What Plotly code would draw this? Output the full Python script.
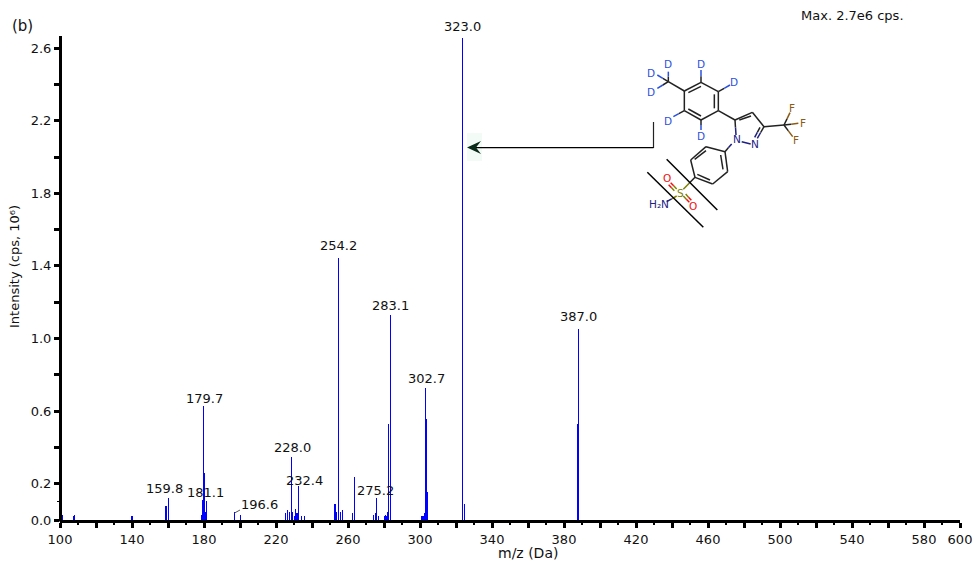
import plotly.graph_objects as go

# ---------- data ----------
mz = [100.2, 100.7, 101.2, 107.5, 107.9, 139.6, 140.1, 158.4, 158.9, 160.2, 178.7, 179.2, 179.6, 180.1, 180.6, 181.3,
      196.8, 200.2, 225.4, 226.3, 227.4, 228.5, 229.1, 230.3, 230.8, 231.4, 231.9, 232.4, 234.3, 235.7,
      252.4, 253.0, 253.5, 254.6, 256.1, 256.7, 262.4, 263.5, 274.1, 275.2, 275.7, 276.8,
      280.2, 280.7, 281.3, 281.8, 282.4, 283.5, 300.7, 301.3, 301.8, 302.4, 303.0, 303.5, 304.1,
      323.5, 324.6, 387.4, 388.0]
intensity = [0.05, 0.04, 0.03, 0.02, 0.03, 0.022, 0.022, 0.077, 0.077, 0.12, 0.028, 0.11, 0.628, 0.257, 0.045, 0.105,
             0.042, 0.028, 0.037, 0.055, 0.042, 0.347, 0.044, 0.022, 0.06, 0.04, 0.04, 0.187, 0.022, 0.022,
             0.088, 0.088, 0.044, 1.443, 0.044, 0.055, 0.037, 0.237, 0.028, 0.039, 0.123, 0.022,
             0.02, 0.028, 0.022, 0.044, 0.529, 1.13, 0.022, 0.022, 0.022, 0.039, 0.725, 0.556, 0.154,
             2.655, 0.088, 0.529, 1.052]

label_text = ["254.2", "283.1", "387.0", "302.7", "179.7", "159.8", "181.1", "228.0", "232.4", "196.6", "275.2"]
label_mz = [254.6, 283.8, 388.0, 303.6, 180.4, 158.3, 181.0, 229.0, 236.1, 210.6, 275.0]
label_int = [1.510, 1.180, 1.120, 0.777, 0.672, 0.176, 0.154, 0.397, 0.220, 0.083, 0.165]

x_ticks = list(range(100, 601, 20))
x_labelled = [100, 140, 180, 220, 260, 300, 340, 380, 420, 460, 500, 540, 580, 600]
x_minor = list(range(110, 600, 20))
y_ticks = [0.0, 0.2, 0.4, 0.6, 0.8, 1.0, 1.2, 1.4, 1.6, 1.8, 2.0, 2.2, 2.4, 2.6]
y_labelled = [0.0, 0.2, 0.6, 1.0, 1.4, 1.8, 2.2, 2.6]

W, H = 980, 569
ML, MR, MT, MB = 60, 20, 36, 49
FONT = "DejaVu Sans"
TXT = "#111111"


def px(x):
    return (x - ML) / (W - ML - MR)


def py(y):
    return 1 - (y - MT) / (H - MT - MB)


def zx(v):  # molecule drawing space -> page pixels
    return 620 + v / 3


def zy(v):
    return 40 + v / 3


shapes = []


def seg(x0, y0, x1, y1, color="#222222", width=1.5):
    shapes.append(dict(type="line", xref="paper", yref="paper", x0=px(x0), y0=py(y0), x1=px(x1), y1=py(y1),
                       line=dict(color=color, width=width), layer="above"))


def bond(a, b, color="#222222", color2=None, width=1.5):
    x0, y0, x1, y1 = zx(a[0]), zy(a[1]), zx(b[0]), zy(b[1])
    if color2:
        mx, my = (x0 + x1) / 2, (y0 + y1) / 2
        seg(x0, y0, mx, my, color, width)
        seg(mx, my, x1, y1, color2, width)
    else:
        seg(x0, y0, x1, y1, color, width)


BLUE, BROWN, RED, NAVY, OLIVE = "#2a50e0", "#8b5a14", "#f01010", "#202080", "#808000"

ring_a = [(193, 153), (243, 127), (295, 155), (295, 212), (243, 240), (193, 212)]
ring_b = [(315, 335), (323, 395), (278, 432), (225, 412), (212, 360), (258, 320)]
black_bonds = [
    *zip(ring_a, ring_a[1:] + ring_a[:1]), *zip(ring_b, ring_b[1:] + ring_b[:1]),
    ((205, 158), (243, 139)), ((283, 163), (283, 205)), ((205, 207), (243, 228)),
    ((193, 153), (145, 125)), ((295, 212), (345, 240)),
    ((345, 240), (397, 217)), ((397, 217), (432, 260)), ((358, 240), (393, 228)),
    ((432, 260), (492, 255)), ((302, 345), (309, 388)), ((270, 420), (232, 403)), ((224, 358), (258, 332)),
]
for a, b in black_bonds:
    bond(a, b)
for b in [(145, 95), (112, 105), (112, 145)]:
    bond((145, 125), b, "#222222", BLUE)
for a, b in [((243, 127), (243, 90)), ((295, 155), (330, 135)), ((193, 212), (160, 230)), ((243, 240), (243, 270))]:
    bond(a, b, "#222222", BLUE)
bond((345, 240), (348, 285), "#222222", NAVY)
bond((335, 312), (315, 335), NAVY, "#222222")
bond((365, 305), (392, 312), NAVY)
bond((432, 260), (412, 295), "#222222", NAVY)
bond((420, 262), (404, 292), "#222222", NAVY)
for b in [(510, 218), (535, 250), (518, 290)]:
    bond((492, 255), b, "#222222", BROWN)
bond((225, 412), (190, 448), "#222222", OLIVE)
bond((170, 447), (152, 428), OLIVE, RED)
bond((163, 452), (146, 434), OLIVE, RED)
bond((190, 468), (208, 487), OLIVE, RED)
bond((197, 462), (214, 481), OLIVE, RED)
bond((170, 468), (140, 485), OLIVE, NAVY)

# cleavage marks
bond((140, 358), (292, 510), "#000000", width=1.5)
bond((82, 397), (250, 562), "#000000", width=1.5)

# arrow from the structure to the 323 peak
shapes.append(dict(type="rect", xref="paper", yref="paper", x0=px(467), x1=px(482), y0=py(133), y1=py(161),
                   fillcolor="#f3fbf6", line=dict(width=0), layer="below"))
seg(653.5, 122, 653.5, 148, "#222222", 1.2)
seg(653.5, 147.7, 475, 147.7, "#000000", 1.2)
shapes.append(dict(type="path", xref="paper", yref="paper",
                   path=f"M {px(467)} {py(147.5)} L {px(481)} {py(141)} L {px(476)} {py(147.5)} L {px(481)} {py(154)} Z",
                   fillcolor="#0a2a1a", line=dict(width=0), layer="above"))
# leader for 196.6
seg(234.5, 513, 240, 510, "#555555", 1)
# vertical axis line, centred on the 100 position as in the reference
seg(60.5, 36, 60.5, 521.5, "#000000", 3)

fig = go.Figure(go.Bar(x=mz, y=intensity, width=1 / 1.8, marker=dict(color="rgba(0,0,255,0.999)", line=dict(width=0)),
                       hoverinfo="x+y"))

annotations = [dict(x=m, y=v, xref="x", yref="y", text=t, showarrow=False, xanchor="center", yanchor="middle",
                    font=dict(family=FONT, size=13, color=TXT))
               for t, m, v in zip(label_text, label_mz, label_int)]


def page_text(x, y, text, size=13, color=TXT, angle=0):
    annotations.append(dict(x=px(x), y=py(y), xref="paper", yref="paper", text=text, showarrow=False,
                            xanchor="center", yanchor="middle", textangle=angle,
                            font=dict(family=FONT, size=size, color=color)))


page_text(462, 27, "323.0")
page_text(22, 26, "(b)", 15)
page_text(852, 16, "Max. 2.7e6 cps.", 13)
page_text(528, 553, "m/z (Da)", 14)
page_text(14, 267, "Intensity (cps, 10⁶)", 13, angle=-90)

atoms = [("D", 143, 72, BLUE), ("D", 92, 100, BLUE), ("D", 92, 156, BLUE), ("D", 243, 71, BLUE), ("D", 343, 126, BLUE),
         ("D", 143, 242, BLUE), ("D", 243, 287, BLUE), ("F", 515, 203, BROWN), ("F", 548, 250, BROWN),
         ("F", 527, 301, BROWN), ("N", 350, 298, NAVY), ("N", 404, 312, NAVY), ("O", 142, 413, RED),
         ("O", 220, 497, RED), ("S", 180, 458, OLIVE), ("H₂N", 118, 493, NAVY)]
for t, ax, ay, c in atoms:
    page_text(zx(ax), zy(ay), t, 10.5, c)

fig.update_layout(
    width=W, height=H, autosize=False, showlegend=False, paper_bgcolor="white", plot_bgcolor="white",
    margin=dict(l=ML, r=MR, t=MT, b=MB, autoexpand=False), font=dict(family=FONT, size=13, color=TXT),
    shapes=shapes, annotations=annotations, bargap=0,
    xaxis=dict(range=[100, 600], tickmode="array", tickvals=x_ticks, automargin=False,
               ticktext=[str(v) if v in x_labelled else "" for v in x_ticks],
               ticks="outside", ticklen=5, tickwidth=3, tickcolor="black", showline=True, linewidth=3,
               linecolor="black", showgrid=False, zeroline=False, tickangle=0,
               minor=dict(tickmode="array", tickvals=x_minor, ticks="outside", ticklen=2, tickwidth=2,
                          tickcolor="black", showgrid=False)),
    yaxis=dict(range=[0, 2.667], tickmode="array", tickvals=y_ticks, automargin=False,
               ticktext=[f"{v:.1f}" if v in y_labelled else "" for v in y_ticks],
               ticks="outside", ticklen=5, tickwidth=3, tickcolor="black", showline=False,
               showgrid=False, zeroline=False,
               minor=dict(tickmode="array", tickvals=[0.1], ticks="outside", ticklen=2, tickwidth=1,
                          tickcolor="black", showgrid=False)),
)
fig.write_html("out.html", config=dict(displayModeBar=False),
               post_script="document.body.style.margin='0';document.documentElement.style.overflow='hidden';")
